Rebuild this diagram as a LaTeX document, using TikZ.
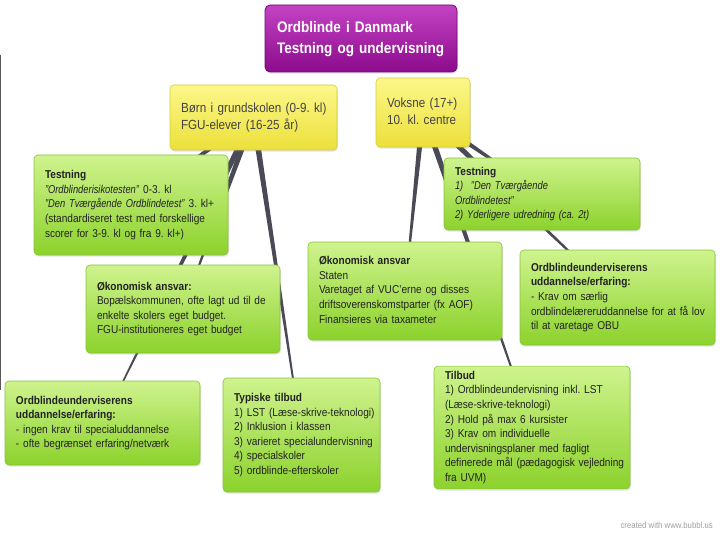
\documentclass[tikz,border=0pt]{standalone}
\usepackage{fontspec}
\setmainfont{Liberation Sans}[
  UprightFeatures={FakeStretch=0.885},
  BoldFeatures={FakeStretch=0.885},
  ItalicFeatures={FakeStretch=0.82},
  BoldItalicFeatures={FakeStretch=0.82}]
\usetikzlibrary{calc,shadows}
\definecolor{gtop}{HTML}{CFF38E}
\definecolor{gbot}{HTML}{8CD22C}
\definecolor{gline}{HTML}{86C437}
\definecolor{ytop}{HTML}{FCF78A}
\definecolor{ybot}{HTML}{ECE03A}
\definecolor{yline}{HTML}{D6CC3C}
\definecolor{ptop}{HTML}{C443C4}
\definecolor{pbot}{HTML}{8C0B8C}
\definecolor{pline}{HTML}{6E086E}
\definecolor{conncol}{HTML}{4A4A56}
\definecolor{txt}{HTML}{222222}
\pgfdeclarelayer{bg}
\pgfsetlayers{bg,main}
\frenchspacing
\newcommand\taperline[2]{%
  \fill[conncol] ($(#1.center)!3pt!90:(#2.center)$) -- ($(#2.center)!0.5pt!-90:(#1.center)$)
   -- ($(#2.center)!0.5pt!90:(#1.center)$) -- ($(#1.center)!3pt!-90:(#2.center)$) -- cycle;}
\newcommand\txtlines[1]{\begin{tabular}{@{}l@{}}#1\end{tabular}}
\begin{document}
\begin{tikzpicture}[x=1pt,y=-1pt,
  shad/.style={drop shadow={opacity=0.22,shadow xshift=0.8pt,shadow yshift=-1.6pt}},
  gbox/.style 2 args={shad,rounded corners=4pt,draw=gline,line width=0.6pt,
    top color=gtop,bottom color=gbot,text=txt,align=left,
    text width=#1,minimum height=#2,inner xsep=11pt,inner ysep=3pt,
    font=\fontsize{11.4}{14.6}\selectfont},
  ybox/.style 2 args={shad,rounded corners=4pt,draw=yline,line width=0.6pt,
    top color=ytop,bottom color=ybot,text=txt!85!white,align=left,
    text width=#1,minimum height=#2,inner xsep=11pt,inner ysep=3pt,
    font=\fontsize{13.2}{17.5}\selectfont},
  rbox/.style={shad,rounded corners=5pt,draw=pline,line width=0.8pt,
    top color=ptop,bottom color=pbot,text=white,align=left,
    text width=168pt,minimum height=67pt,inner xsep=12pt,
    font=\fontsize{15.3}{21}\selectfont\bfseries},
  credit/.style={text=black!38,font=\fontsize{8.8}{10}\selectfont,inner sep=0pt}
]
\useasboundingbox (0,0) rectangle (720,540);
\draw[black!65,line width=1.4pt] (0.7,55) -- (0.7,390);

\node[rbox] (root) at (361,38.5) {\txtlines{Ordblinde i Danmark\\Testning og undervisning}};

\node[ybox={145pt}{65pt}] (born) at (253.5,117.5) {\txtlines{Børn i grundskolen (0-9. kl)\\FGU-elever (16-25 år)}};
\node[ybox={72pt}{69pt}] (voksne) at (423,112.5) {\txtlines{Voksne (17+)\\10. kl. centre}};

\node[gbox={172pt}{100pt}] (test1) at (131,205) {\txtlines{\textbf{Testning}\\
\textit{"Ordblinderisikotesten"} 0-3. kl\\
\textit{"Den Tværgående Ordblindetest"} 3. kl+\\
(standardiseret test med forskellige\\
scorer for 3-9. kl og fra 9. kl+)}};

\node[gbox={172pt}{88pt}] (oko1) at (183,309) {\txtlines{\textbf{Økonomisk ansvar:}\\
Bopælskommunen, ofte lagt ud til de\\
enkelte skolers eget budget.\\
FGU-institutioneres eget budget}};

\node[gbox={173pt}{84pt}] (ord1) at (102.5,423) {\txtlines{\textbf{Ordblindeunderviserens}\\
\textbf{uddannelse/erfaring:}\\
- ingen krav til specialuddannelse\\
- ofte begrænset erfaring/netværk}};

\node[gbox={135pt}{114pt}] (typ) at (301.5,435) {\txtlines{\textbf{Typiske tilbud}\\
1) LST (Læse-skrive-teknologi)\\
2) Inklusion i klassen\\
3) varieret specialundervisning\\
4) specialskoler\\
5) ordblinde-efterskoler}};

\node[gbox={174pt}{72pt}] (test2) at (542,194) {\txtlines{\textbf{Testning}\\
\textit{1)\ \ "Den Tværgående}\\
\textit{Ordblindetest"}\\
\textit{2) Yderligere udredning (ca. 2t)}}};

\node[gbox={172pt}{98pt}] (oko2) at (405,291) {\txtlines{\textbf{Økonomisk ansvar}\\
Staten\\
Varetaget af VUC'erne og disses\\
driftsoverenskomstparter (fx AOF)\\
Finansieres via taxameter}};

\node[gbox={173pt}{95pt}] (ord2) at (617.5,297.5) {\txtlines{\textbf{Ordblindeunderviserens}\\
\textbf{uddannelse/erfaring:}\\
- Krav om særlig\\
ordblindelæreruddannelse for at få lov\\
til at varetage OBU}};

\node[gbox={174pt}{121pt}] (tilbud) at (532,427.5) {\txtlines{\textbf{Tilbud}\\
1) Ordblindeundervisning inkl. LST\\
(Læse-skrive-teknologi)\\
2) Hold på max 6 kursister\\
3) Krav om individuelle\\
undervisningsplaner med fagligt\\
definerede mål (pædagogisk vejledning\\
fra UVM)}};

\node[credit,anchor=base east] (cred) at (713,528) {created with www.bubbl.us};

\begin{pgfonlayer}{bg}
\taperline{born}{test1}
\taperline{born}{oko1}
\taperline{born}{ord1}
\taperline{born}{typ}
\taperline{voksne}{test2}
\taperline{voksne}{oko2}
\taperline{voksne}{ord2}
\taperline{voksne}{tilbud}
\end{pgfonlayer}
\end{tikzpicture}
\end{document}
